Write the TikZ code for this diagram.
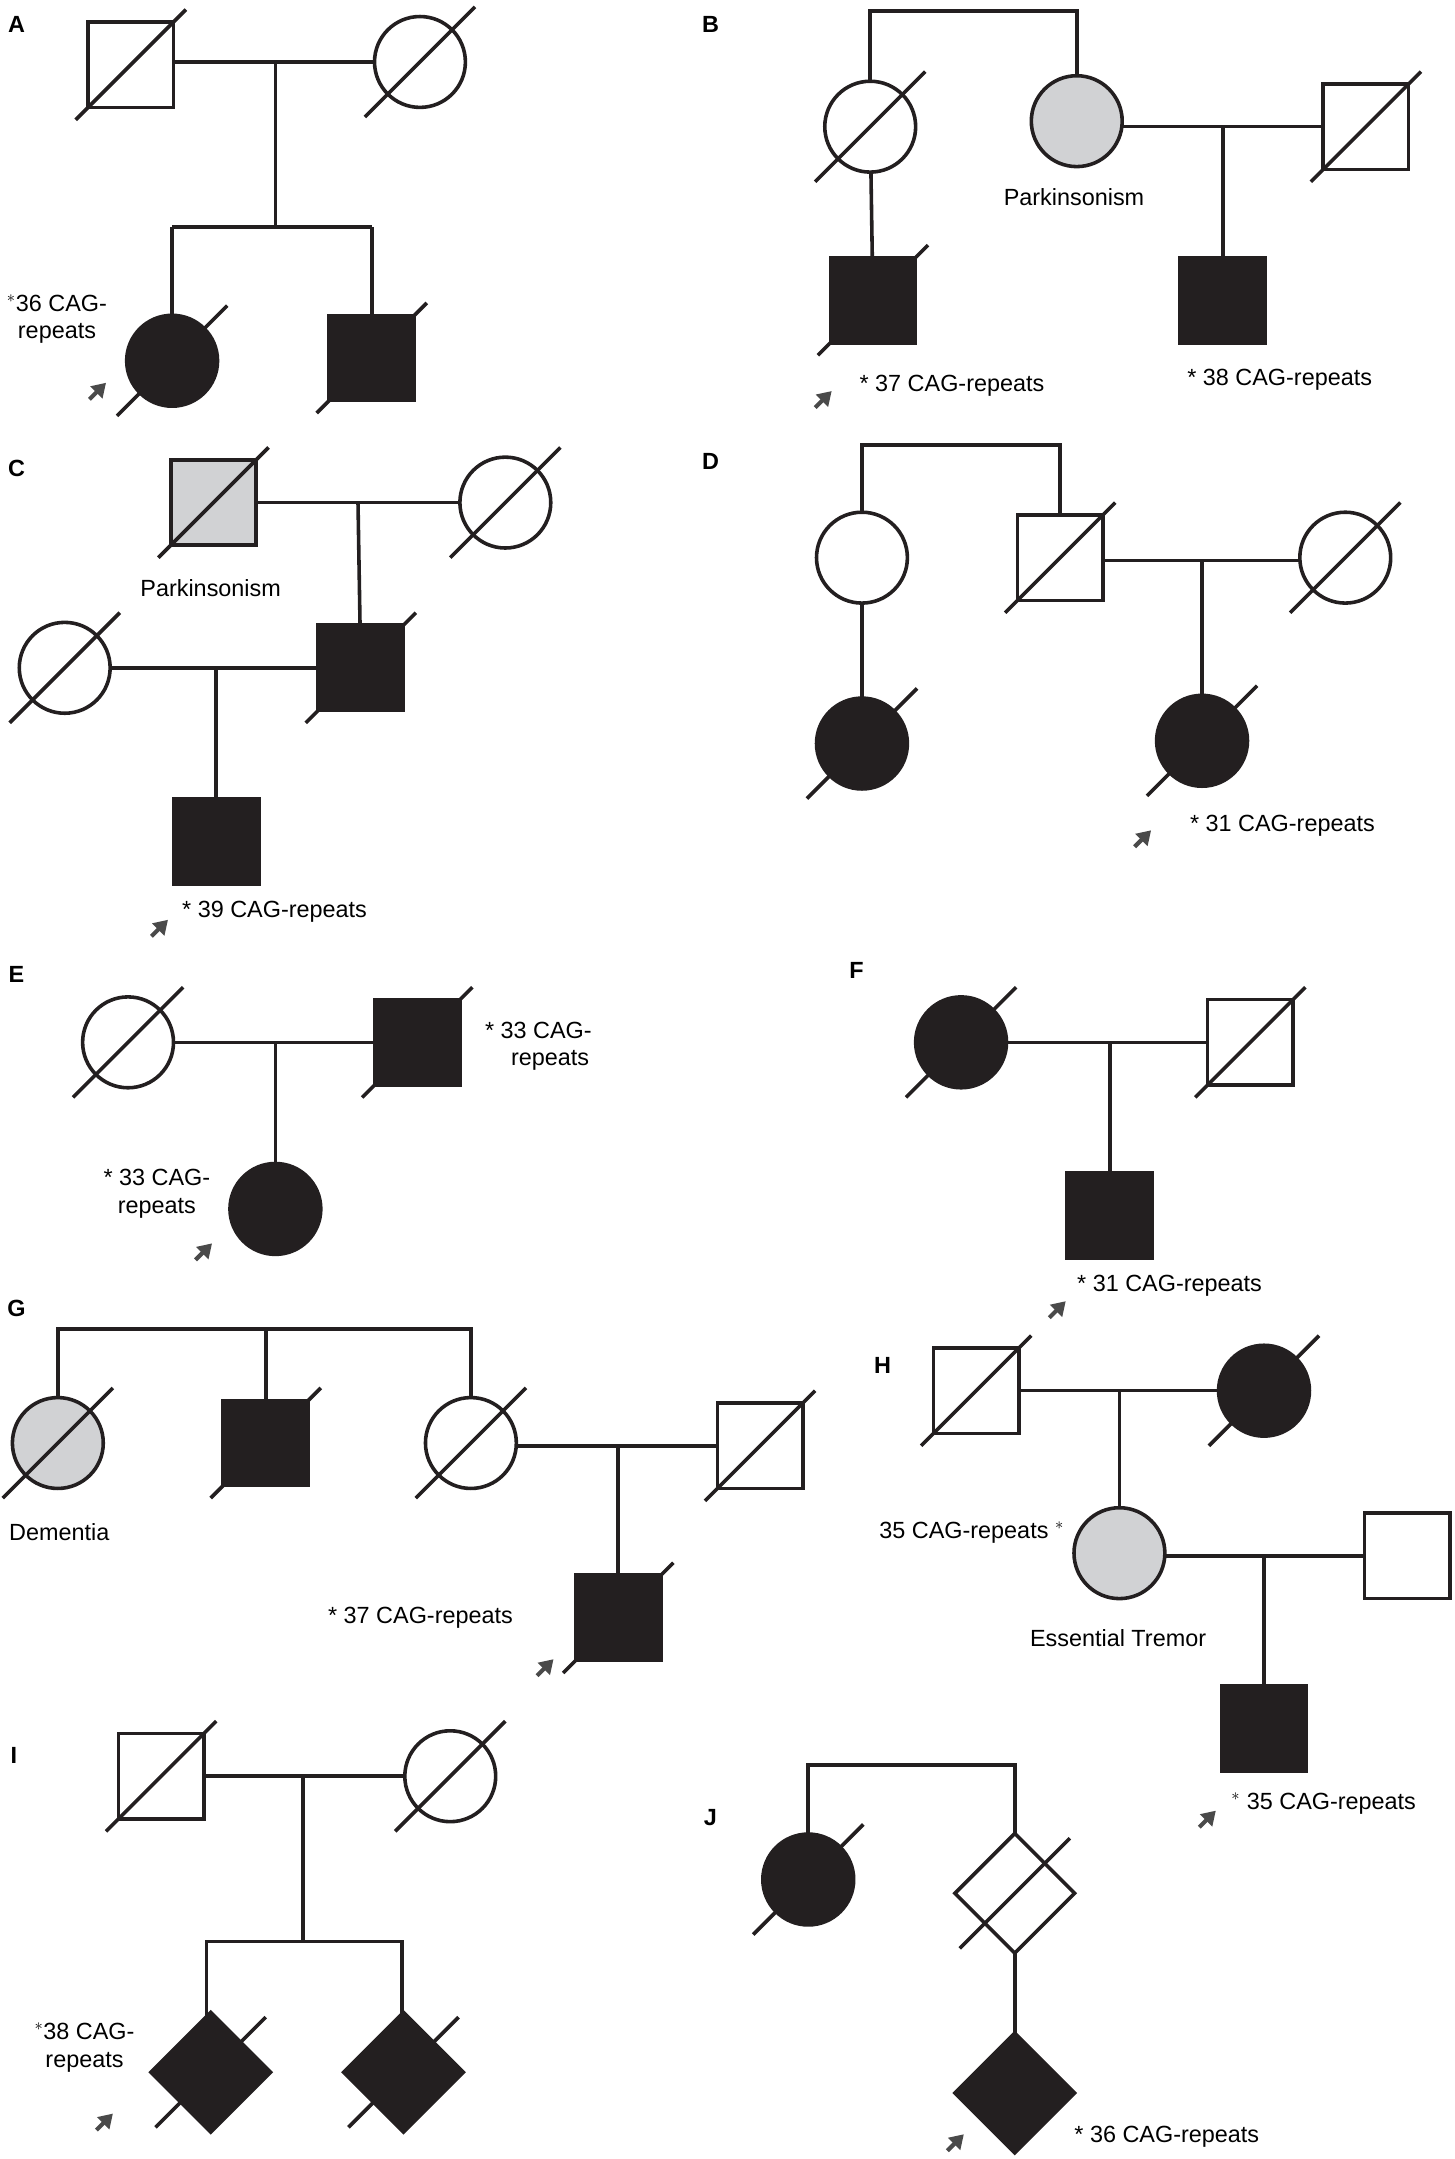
\documentclass[tikz,border=0pt]{standalone}
\usepackage{fontspec}
\setmainfont{Liberation Sans}
\usetikzlibrary{shapes.geometric,arrows.meta}
\definecolor{pg}{HTML}{D1D2D4}
\definecolor{pk}{HTML}{231F20}
\definecolor{ag}{HTML}{4A4A4A}
\begin{document}
\begin{tikzpicture}[x=1pt,y=-1pt,line width=2.6pt,draw=pk,
  sq/.style={draw,rectangle,minimum size=62pt,inner sep=0pt},
  ci/.style={draw,circle,minimum size=66pt,inner sep=0pt},
  di/.style={draw,diamond,minimum size=88pt,inner sep=0pt},
  af/.style={fill=pk}, gf/.style={fill=pg}, wf/.style={fill=white},
  ln/.style={line width=2.6pt,draw=pk},
  lab/.style={font=\fontsize{17}{20}\selectfont,align=center,inner sep=1pt},
  pl/.style={font=\bfseries\fontsize{17}{20}\selectfont},
  arr/.style={draw=ag,line width=3pt,-{Triangle[length=10pt,width=12pt]},fill=ag}]
\useasboundingbox (0,0) rectangle (1056,1568);
\newcommand{\dd}[1]{\draw[ln] (#1.center) +(-40,40) -- +(40,-40);}
\newcommand{\ar}[2]{\draw[arr] (#1,#2) -- ++(12,-12);}
% A
\node[pl] at (12,18) {A};
\coordinate (a1) at (200,45); \coordinate (a2) at (200,165);
\coordinate (a3) at (125,165); \coordinate (a4) at (270,165);
\draw[ln] (95,45) -- (305,45); \draw[ln] (a1) -- (a2); \draw[ln] (125,165) -- (270,165);
\draw[ln] (a3) -- (125,262); \draw[ln] (a4) -- (270,260);
\node[sq,wf] (A1) at (95,47) {}; \dd{A1}
\node[ci,wf] (A2) at (305,45) {}; \dd{A2}
\node[ci,af] (A3) at (125,262) {}; \dd{A3}
\node[sq,af] (A4) at (270,260) {}; \dd{A4}
\node[lab,anchor=east] at (80,232) {$^*$36 CAG-\\repeats};
\ar{65}{290}
% B
\node[pl] at (516,18) {B};
\draw[ln] (632,92) -- (632,8) -- (782,8) -- (782,88);
\draw[ln] (782,92) -- (992,92); \draw[ln] (888,92) -- (888,218); \draw[ln] (632,92) -- (634,218);
\node[ci,wf] (B1) at (632,92) {}; \dd{B1}
\node[ci,gf] (B2) at (782,88) {};
\node[sq,wf] (B3) at (992,92) {}; \dd{B3}
\node[sq,af] (B4) at (634,218) {}; \dd{B4}
\node[sq,af] (B5) at (888,218) {};
\node[lab] at (780,143) {Parkinsonism};
\node[lab,anchor=west] at (622,280) {* 37 CAG-repeats};
\node[lab,anchor=west] at (860,276) {* 38 CAG-repeats};
\ar{592}{296}
% C
\node[pl] at (12,340) {C};
\draw[ln] (155,365) -- (367,365); \draw[ln] (260,365) -- (262,485);
\draw[ln] (47,485) -- (262,485); \draw[ln] (157,485) -- (157,611);
\node[sq,gf] (C1) at (155,365) {}; \dd{C1}
\node[ci,wf] (C2) at (367,365) {}; \dd{C2}
\node[sq,af] (C3) at (262,485) {}; \dd{C3}
\node[ci,wf] (C4) at (47,485) {}; \dd{C4}
\node[sq,af] (C5) at (157,611) {};
\node[lab] at (153,427) {Parkinsonism};
\node[lab,anchor=west] at (130,662) {* 39 CAG-repeats};
\ar{110}{680}
% D
\node[pl] at (516,335) {D};
\draw[ln] (626,405) -- (626,323) -- (770,323) -- (770,405);
\draw[ln] (770,407) -- (977,407); \draw[ln] (873,407) -- (873,538);
\draw[ln] (626,405) -- (626,540);
\node[ci,wf] (D1) at (626,405) {};
\node[sq,wf] (D2) at (770,405) {}; \dd{D2}
\node[ci,wf] (D3) at (977,405) {}; \dd{D3}
\node[ci,af] (D4) at (873,538) {}; \dd{D4}
\node[ci,af] (D5) at (626,540) {}; \dd{D5}
\node[lab,anchor=west] at (862,600) {* 31 CAG-repeats};
\ar{824}{615}
% E
\node[pl] at (12,708) {E};
\draw[ln] (93,757) -- (303,757); \draw[ln] (200,757) -- (200,878);
\node[ci,wf] (E1) at (93,757) {}; \dd{E1}
\node[sq,af] (E2) at (303,757) {}; \dd{E2}
\node[ci,af] (E3) at (200,878) {};
\node[lab,anchor=west] at (350,760) {* 33 CAG-\\\hspace*{1em}repeats};
\node[lab,anchor=east] at (155,867) {* 33 CAG-\\repeats};
\ar{142}{915}
% F
\node[pl] at (622,705) {F};
\draw[ln] (698,757) -- (908,757); \draw[ln] (806,757) -- (806,883);
\node[ci,af] (F1) at (698,757) {}; \dd{F1}
\node[sq,wf] (F2) at (908,757) {}; \dd{F2}
\node[sq,af] (F3) at (806,883) {};
\node[lab,anchor=west] at (780,934) {* 31 CAG-repeats};
\ar{762}{957}
% G
\node[pl] at (12,950) {G};
\draw[ln] (42,1048) -- (42,965) -- (342,965) -- (342,1048); \draw[ln] (193,965) -- (193,1048);
\draw[ln] (342,1050) -- (552,1050); \draw[ln] (449,1050) -- (449,1175);
\node[ci,gf] (G1) at (42,1048) {}; \dd{G1}
\node[sq,af] (G2) at (193,1048) {}; \dd{G2}
\node[ci,wf] (G3) at (342,1048) {}; \dd{G3}
\node[sq,wf] (G4) at (552,1050) {}; \dd{G4}
\node[sq,af] (G5) at (449,1175) {}; \dd{G5}
\node[lab] at (43,1113) {Dementia};
\node[lab,anchor=west] at (236,1175) {* 37 CAG-repeats};
\ar{390}{1217}
% H
\node[pl] at (641,992) {H};
\draw[ln] (709,1010) -- (918,1010); \draw[ln] (813,1010) -- (813,1128);
\draw[ln] (813,1130) -- (1022,1130); \draw[ln] (918,1130) -- (918,1255);
\node[sq,wf] (H1) at (709,1010) {}; \dd{H1}
\node[ci,af] (H2) at (918,1010) {}; \dd{H2}
\node[ci,gf] (H3) at (813,1128) {};
\node[sq,wf] (H4) at (1022,1130) {};
\node[sq,af] (H5) at (918,1255) {};
\node[lab,anchor=east] at (775,1113) {35 CAG-repeats $^*$};
\node[lab] at (812,1190) {Essential Tremor};
\node[lab,anchor=west] at (892,1310) {$^*$ 35 CAG-repeats};
\ar{871}{1327}
% I
\node[pl] at (10,1275) {I};
\draw[ln] (117,1290) -- (327,1290); \draw[ln] (220,1290) -- (220,1410);
\draw[ln] (150,1505) -- (150,1410) -- (292,1410) -- (292,1505);
\node[sq,wf] (I1) at (117,1290) {}; \dd{I1}
\node[ci,wf] (I2) at (327,1290) {}; \dd{I2}
\node[di,af] (I3) at (153,1505) {}; \dd{I3}
\node[di,af] (I4) at (293,1505) {}; \dd{I4}
\node[lab,anchor=east] at (100,1487) {$^*$38 CAG-\\repeats};
\ar{70}{1547}
% J
\node[pl] at (516,1320) {J};
\draw[ln] (587,1365) -- (587,1282) -- (737,1282) -- (737,1520);
\node[ci,af] (J1) at (587,1365) {}; \dd{J1}
\node[di,wf] (J2) at (737,1375) {}; \dd{J2}
\node[di,af] (J3) at (737,1520) {};
\node[lab,anchor=west] at (778,1552) {* 36 CAG-repeats};
\ar{688}{1562}
\end{tikzpicture}
\end{document}
